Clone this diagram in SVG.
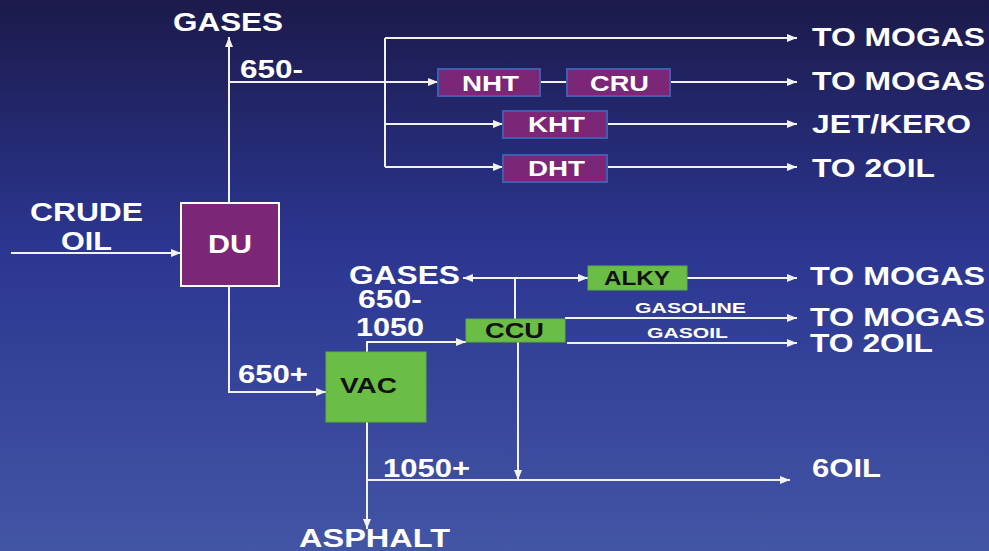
<svg xmlns="http://www.w3.org/2000/svg" width="989" height="551" viewBox="0 0 989 551">
<defs>
<linearGradient id="bg" x1="0" y1="0" x2="0" y2="1">
<stop offset="0" stop-color="#1c1a4b"/>
<stop offset="0.45" stop-color="#2b3691"/>
<stop offset="1" stop-color="#4355a5"/>
</linearGradient>
<marker id="ah" markerUnits="userSpaceOnUse" markerWidth="10" markerHeight="8" refX="10" refY="4" orient="auto-start-reverse">
<path d="M0,0 L10,4 L0,8 z" fill="#f2f2f2"/>
</marker>
<style>
.ln{stroke:#f2f2f2;stroke-width:2;fill:none}
.lb{font-family:"Liberation Sans",Arial,sans-serif;font-weight:bold;fill:#ffffff}
.big{font-size:25px}
.mid{font-size:22px}
.sm{font-size:15px}
.dk{fill:#111111}
.pu{fill:#7b2677;stroke:#3f5eb0;stroke-width:2}
.gr{fill:#6abd45;stroke:#5fae3e;stroke-width:1}
</style>
</defs>
<rect x="0" y="0" width="989" height="551" fill="url(#bg)"/>
<g id="connectors">
<path class="ln" d="M229,203 L229,37" marker-end="url(#ah)"/>
<path class="ln" d="M229,82 L438,82" marker-end="url(#ah)"/>
<path class="ln" d="M385,38 L385,167"/>
<path class="ln" d="M385,38 L797,38" marker-end="url(#ah)"/>
<path class="ln" d="M540,82 L567,82"/>
<path class="ln" d="M670,82 L797,82" marker-end="url(#ah)"/>
<path class="ln" d="M385,124 L503,124" marker-end="url(#ah)"/>
<path class="ln" d="M607,124 L797,124" marker-end="url(#ah)"/>
<path class="ln" d="M385,167 L503,167" marker-end="url(#ah)"/>
<path class="ln" d="M607,167 L797,167" marker-end="url(#ah)"/>
<path class="ln" d="M11,253 L181,253" marker-end="url(#ah)"/>
<path class="ln" d="M229,286 L229,392 L326,392" marker-end="url(#ah)"/>
<path class="ln" d="M367,352 L367,342 L466,342" marker-end="url(#ah)"/>
<path class="ln" d="M463,278 L588,278" marker-start="url(#ah)" marker-end="url(#ah)"/>
<path class="ln" d="M515,278 L515,319"/>
<path class="ln" d="M687,278 L797,278" marker-end="url(#ah)"/>
<path class="ln" d="M565,318 L797,318" marker-end="url(#ah)"/>
<path class="ln" d="M567,343 L797,343" marker-end="url(#ah)"/>
<path class="ln" d="M518,342 L518,480" marker-end="url(#ah)"/>
<path class="ln" d="M367,422 L367,529" marker-end="url(#ah)"/>
<path class="ln" d="M367,480 L790,480" marker-end="url(#ah)"/>
</g>
<g id="DU">
<rect x="181" y="203" width="98" height="83" fill="#7b2677" stroke="#ffffff" stroke-width="2"/>
<text class="lb big" x="208" y="253" textLength="44" lengthAdjust="spacingAndGlyphs">DU</text>
</g>
<g id="NHT">
<rect class="pu" x="438" y="69" width="102" height="27"/>
<text class="lb mid" x="462" y="91" textLength="57" lengthAdjust="spacingAndGlyphs">NHT</text>
</g>
<g id="CRU">
<rect class="pu" x="567" y="69" width="103" height="27"/>
<text class="lb mid" x="590" y="91" textLength="59" lengthAdjust="spacingAndGlyphs">CRU</text>
</g>
<g id="KHT">
<rect class="pu" x="503" y="111" width="104" height="27"/>
<text class="lb mid" x="528" y="132" textLength="57" lengthAdjust="spacingAndGlyphs">KHT</text>
</g>
<g id="DHT">
<rect class="pu" x="503" y="155" width="104" height="27"/>
<text class="lb mid" x="528" y="176" textLength="57" lengthAdjust="spacingAndGlyphs">DHT</text>
</g>
<g id="VAC">
<rect class="gr" x="326" y="352" width="100" height="70"/>
<text class="lb mid dk" x="340" y="393" textLength="57" lengthAdjust="spacingAndGlyphs">VAC</text>
</g>
<g id="CCU">
<rect class="gr" x="466" y="319" width="99" height="23"/>
<text class="lb mid dk" x="485" y="338" textLength="59" lengthAdjust="spacingAndGlyphs">CCU</text>
</g>
<g id="ALKY">
<rect class="gr" x="588" y="266" width="99" height="24"/>
<text class="lb dk" style="font-size:20px" x="604" y="285" textLength="66" lengthAdjust="spacingAndGlyphs">ALKY</text>
</g>
<g id="labels">
<text class="lb big" x="173" y="31" textLength="110" lengthAdjust="spacingAndGlyphs">GASES</text>
<text class="lb big" x="240" y="78" textLength="63" lengthAdjust="spacingAndGlyphs">650-</text>
<text class="lb big" x="812" y="46" textLength="173" lengthAdjust="spacingAndGlyphs">TO MOGAS</text>
<text class="lb big" x="812" y="90" textLength="173" lengthAdjust="spacingAndGlyphs">TO MOGAS</text>
<text class="lb big" x="812" y="133" textLength="159" lengthAdjust="spacingAndGlyphs">JET/KERO</text>
<text class="lb big" x="812" y="177" textLength="123" lengthAdjust="spacingAndGlyphs">TO 2OIL</text>
<text class="lb big" x="30" y="221" textLength="113" lengthAdjust="spacingAndGlyphs">CRUDE</text>
<text class="lb big" x="61" y="250" textLength="51" lengthAdjust="spacingAndGlyphs">OIL</text>
<text class="lb big" x="349" y="284" textLength="111" lengthAdjust="spacingAndGlyphs">GASES</text>
<text class="lb big" x="358" y="308" textLength="64" lengthAdjust="spacingAndGlyphs">650-</text>
<text class="lb big" x="356" y="336" textLength="68" lengthAdjust="spacingAndGlyphs">1050</text>
<text class="lb big" x="238" y="383" textLength="70" lengthAdjust="spacingAndGlyphs">650+</text>
<text class="lb big" x="810" y="285" textLength="175" lengthAdjust="spacingAndGlyphs">TO MOGAS</text>
<text class="lb sm" x="635" y="313" textLength="111" lengthAdjust="spacingAndGlyphs">GASOLINE</text>
<text class="lb big" x="810" y="326" textLength="175" lengthAdjust="spacingAndGlyphs">TO MOGAS</text>
<text class="lb sm" x="647" y="338" textLength="81" lengthAdjust="spacingAndGlyphs">GASOIL</text>
<text class="lb big" x="810" y="352" textLength="123" lengthAdjust="spacingAndGlyphs">TO 2OIL</text>
<text class="lb big" x="383" y="477" textLength="87" lengthAdjust="spacingAndGlyphs">1050+</text>
<text class="lb big" x="812" y="477" textLength="69" lengthAdjust="spacingAndGlyphs">6OIL</text>
<text class="lb big" x="299" y="547" textLength="151" lengthAdjust="spacingAndGlyphs">ASPHALT</text>
</g>
</svg>
